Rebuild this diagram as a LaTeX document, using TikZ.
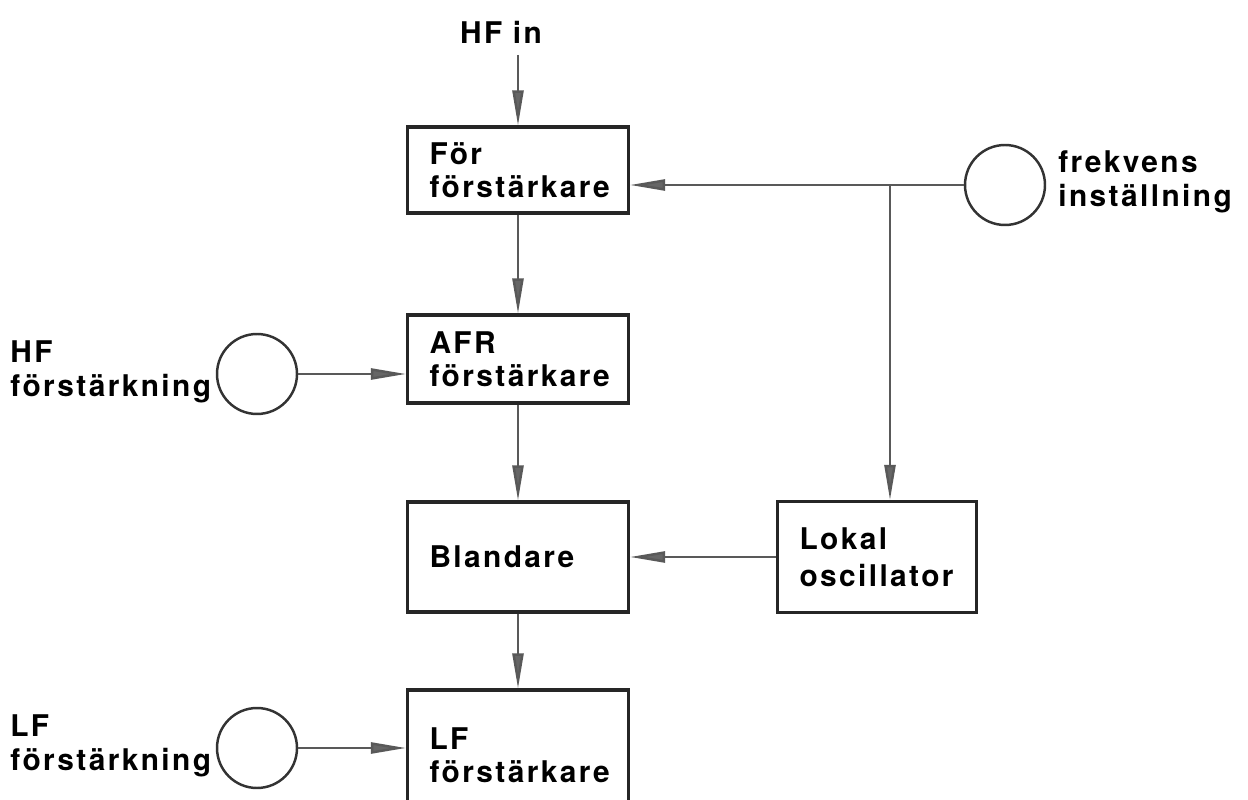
\documentclass[tikz,border=0pt]{standalone}
\usepackage{fontspec}
\setmainfont{TeX Gyre Heros}[LetterSpace=8]
\usepackage{tikz}
\usetikzlibrary{arrows.meta, calc}

\tikzset{
  blockbox/.style={draw=black!85, line width=1.8pt, minimum width=4.42cm,
    text width=3.54cm, inner xsep=0.44cm, align=left, font=\bfseries\fontsize{17}{19}\selectfont},
  knob/.style={draw=black!80, line width=1.4pt, circle, minimum size=1.6cm, inner sep=0pt},
  lbl/.style={align=left, inner sep=0pt, font=\bfseries\fontsize{17}{19}\selectfont},
  sig/.style={draw=black!65, line width=1.4pt,
    -{Triangle[length=0.7cm, width=0.22cm, fill=black!60]}}
}

\begin{document}
\begin{tikzpicture}[x=0.02cm, y=-0.02cm]
    % --- 1. 畫面範圍 ---
    \clip (0,0) rectangle (1248,800);
    \fill[white] (0,0) rectangle (1248,800);

    % --- 2. 中間一列方塊 ---
    \node[blockbox, minimum height=1.72cm] (forf) at (518,170) {För\\förstärkare};
    \node[blockbox, minimum height=1.76cm] (afr)  at (518,359) {AFR\\förstärkare};
    \node[blockbox, minimum height=2.2cm]  (blan) at (518,557) {Blandare};
    \node[blockbox, minimum height=2.6cm]  (lff)  at (518,755) {LF\\förstärkare};
    \node[blockbox, minimum height=2.22cm, minimum width=3.98cm, text width=3.1cm,
        font=\bfseries\fontsize{17}{21}\selectfont]
        (lokal) at (877,557) {Lokal\\oscillator};

    % --- 3. 調節鈕 ---
    \node[knob] (frek) at (1005,185) {};
    \node[knob] (hfk)  at (257,374) {};
    \node[knob] (lfk)  at (257,748) {};

    % --- 4. 標籤 ---
    \node[lbl] (hfin) at (501,32) {HF in};
    \node[lbl, anchor=west] (frekl) at (1058,182) {frekvens\\inställning};
    \node[lbl, anchor=west] (hfl)   at (10,372)  {HF\\förstärkning};
    \node[lbl, anchor=west] (lfl)   at (10,746)  {LF\\förstärkning};

    \coordinate (hfin-s) at (518,55);
    \coordinate (junc) at (890,185);

    % --- 5. 連線 ---
    \draw[sig] (hfin-s) -- (forf.north -| hfin-s);
    \draw[sig] (forf) -- (afr);
    \draw[sig] (afr) -- (blan);
    \draw[sig] (blan) -- (lff.north);
    \draw[sig] (frek.west) -- (frek.west -| forf.east);
    \draw[sig] (junc) -- (junc |- lokal.north);
    \draw[sig] (lokal.west) -- (blan.east);
    \draw[sig] (hfk.east) -- (hfk.east -| afr.west);
    \draw[sig] (lfk.east) -- (lfk.east -| lff.west);

\end{tikzpicture}
\end{document}
